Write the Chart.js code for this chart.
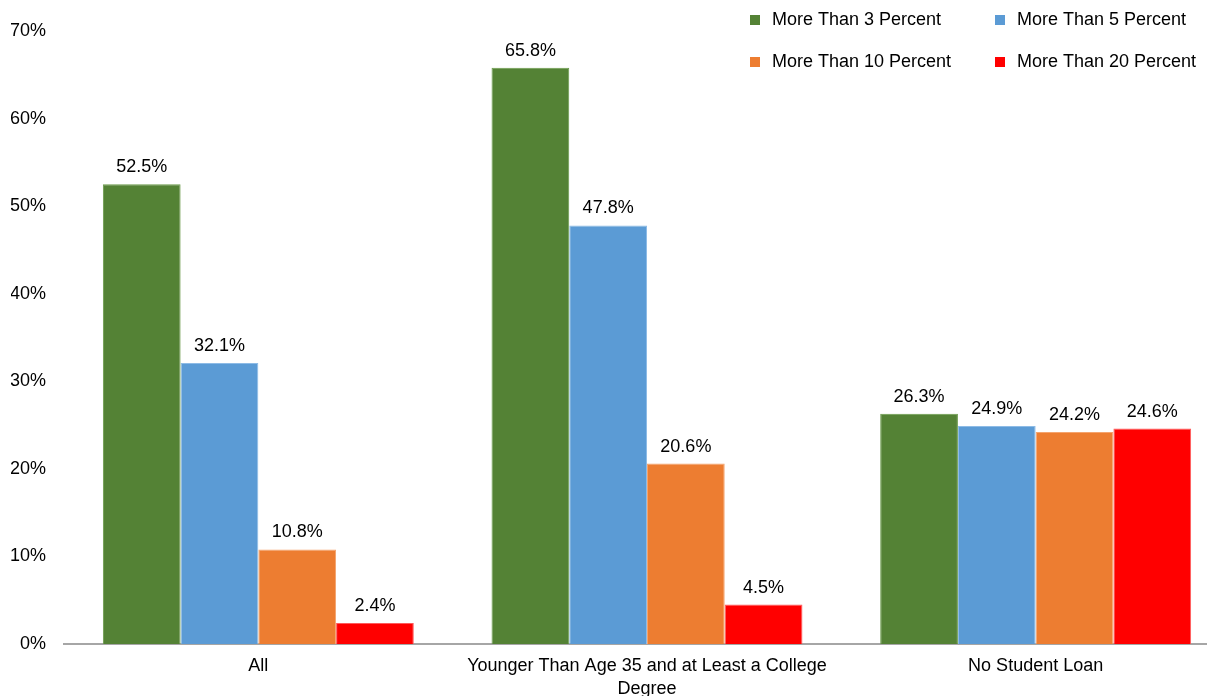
<!DOCTYPE html>
<html>
<head>
<meta charset="utf-8">
<script src="https://cdn.jsdelivr.net/npm/chart.js@4"></script>
<style>
  html, body { margin: 0; padding: 0; background: #fff; overflow: hidden; }
  #wrap { width: 1232px; height: 696px; }
</style>
</head>
<body>
<div id="wrap"><canvas id="loanChart"></canvas></div>
<script>
const categories = ['All', ['Younger Than Age 35 and at Least a College', 'Degree'], 'No Student Loan'];
const seriesNames = ['More Than 3 Percent', 'More Than 5 Percent', 'More Than 10 Percent', 'More Than 20 Percent'];
const over3 = [52.5, 65.8, 26.3];
const over5 = [32.1, 47.8, 24.9];
const over10 = [10.8, 20.6, 24.2];
const over20 = [2.4, 4.5, 24.6];
const yTicks = [0, 10, 20, 30, 40, 50, 60, 70];

const colors = ['#548235', '#5b9bd5', '#ed7d31', '#ff0000'];
const borders = ['#6a9a4a', '#8dbbe6', '#f5a46e', '#ff5a5a'];
const FONT = '"Liberation Sans", Arial, sans-serif';

Chart.defaults.font.family = FONT;
Chart.defaults.font.size = 18;
Chart.defaults.color = '#000';

const valueLabels = {
    id: 'valueLabels',
    afterDatasetsDraw(chart) {
        const ctx = chart.ctx;
        ctx.save();
        ctx.font = '18px ' + FONT;
        ctx.fillStyle = '#000';
        ctx.textAlign = 'center';
        ctx.textBaseline = 'bottom';
        chart.data.datasets.forEach((ds, i) => {
            chart.getDatasetMeta(i).data.forEach((bar, j) => {
                ctx.fillText(ds.data[j].toFixed(1) + '%', bar.x, bar.y - 8);
            });
        });
        ctx.restore();
    }
};

const boxLegend = {
    id: 'boxLegend',
    afterDraw(chart) {
        const ctx = chart.ctx;
        const cols = [750, 995];
        const rows = [20, 62];
        ctx.save();
        ctx.font = '18px ' + FONT;
        ctx.textBaseline = 'middle';
        ctx.textAlign = 'left';
        seriesNames.forEach((name, i) => {
            const x = cols[i % 2], y = rows[Math.floor(i / 2)];
            ctx.fillStyle = colors[i];
            ctx.fillRect(x, y - 5, 10, 10);
            ctx.fillStyle = '#000';
            ctx.fillText(name, x + 22, y);
        });
        ctx.restore();
    }
};

new Chart(document.getElementById('loanChart'), {
    type: 'bar',
    data: {
        labels: categories,
        datasets: [over3, over5, over10, over20].map((vals, i) => ({
            label: seriesNames[i],
            data: vals,
            backgroundColor: colors[i],
            borderColor: borders[i],
            borderWidth: 1,
            categoryPercentage: 0.8,
            barPercentage: 1.0
        }))
    },
    options: {
        responsive: true,
        maintainAspectRatio: false,
        animation: false,
        layout: { padding: { top: 31, left: 11, right: 2, bottom: 0 } },
        plugins: {
            legend: { display: false },
            tooltip: { enabled: false }
        },
        scales: {
            x: {
                grid: { display: false },
                border: { display: true, color: '#a6a6a6', width: 2 },
                ticks: { padding: 3, font: { size: 18, lineHeight: 1.25 }, maxRotation: 0 },
                afterFit(scale) { scale.height = 52; }
            },
            y: {
                min: 0,
                max: 70,
                afterBuildTicks(scale) { scale.ticks = yTicks.map(v => ({ value: v })); },
                grid: { display: false },
                border: { display: false },
                ticks: { padding: 10, callback: v => v + '%' },
                afterFit(scale) { scale.width = 53; }
            }
        }
    },
    plugins: [valueLabels, boxLegend]
});
</script>
</body>
</html>
